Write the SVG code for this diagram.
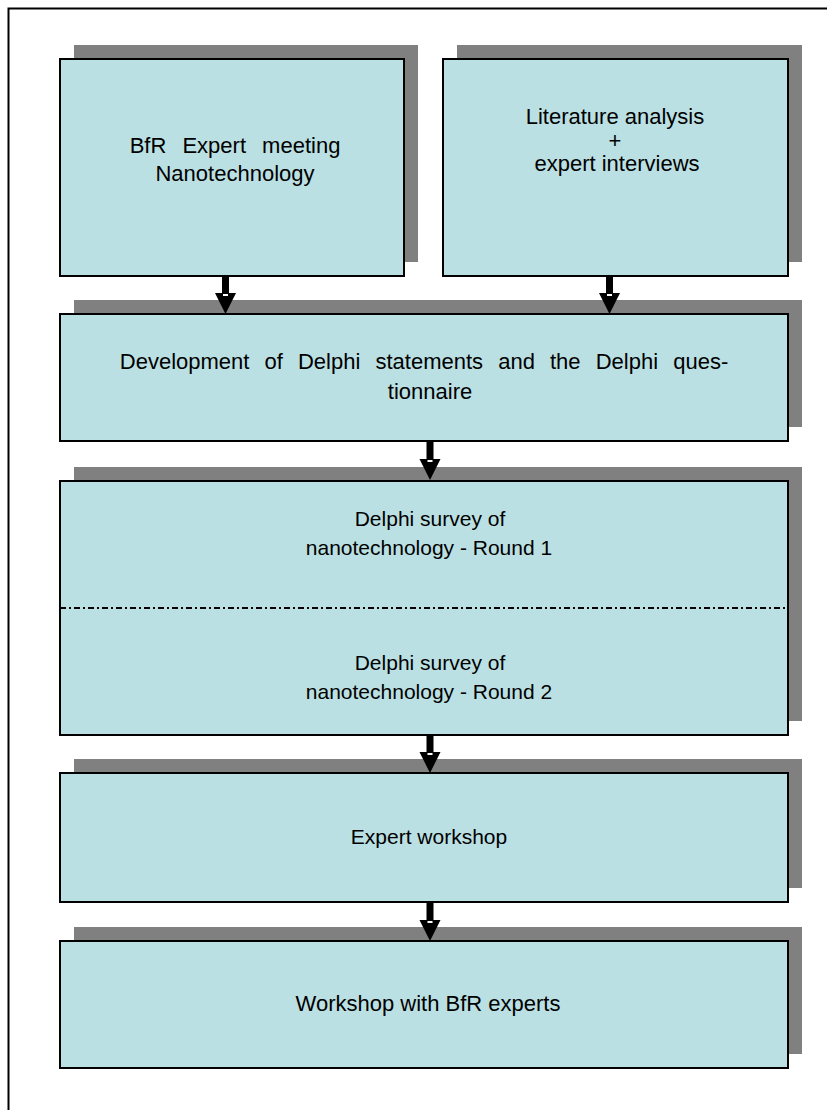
<svg xmlns="http://www.w3.org/2000/svg" width="827" height="1110" viewBox="0 0 827 1110">
<style>
.shadow{fill:#808080;}
.box{fill:#BBE0E3;stroke:#000;stroke-width:2;}
.t{font-family:"Liberation Sans",Arial,sans-serif;font-size:22px;fill:#000;text-anchor:middle;}
.s{font-size:21px;}
.arrow{fill:#000;}
.gap{fill:#fff;}
</style>
<rect x="8.5" y="8.5" width="830" height="1120" fill="#fff" stroke="#000" stroke-width="2"/>
<g id="node-bfr-meeting">
<rect class="shadow" x="74" y="45" width="344" height="217"/>
<rect class="box" x="60" y="59" width="344" height="217"/>
<text class="t" x="235" y="153" word-spacing="10">BfR Expert meeting</text>
<text class="t" x="235" y="181">Nanotechnology</text>
</g>
<g id="node-literature">
<rect class="shadow" x="457" y="45" width="345" height="217"/>
<rect class="box" x="443" y="59" width="345" height="217"/>
<text class="t" x="615" y="124">Literature analysis</text>
<text class="t" x="615" y="148">+</text>
<text class="t" x="617" y="171">expert interviews</text>
</g>
<g id="node-development">
<rect class="shadow" x="74" y="300" width="728" height="127"/>
<rect class="box" x="60" y="314" width="728" height="127"/>
<text class="t" x="424" y="369" word-spacing="9">Development of Delphi statements and the Delphi ques-</text>
<text class="t" x="430" y="399">tionnaire</text>
</g>
<g id="node-survey">
<rect class="shadow" x="74" y="467" width="728" height="254"/>
<rect class="box" x="60" y="481" width="728" height="254"/>
<line x1="60" y1="608" x2="788" y2="608" stroke="#000" stroke-width="2" stroke-dasharray="6,3,2,3"/>
<text class="t s" x="430" y="526">Delphi survey of</text>
<text class="t s" x="429" y="555">nanotechnology - Round 1</text>
<text class="t s" x="430" y="670">Delphi survey of</text>
<text class="t s" x="429" y="699">nanotechnology - Round 2</text>
</g>
<g id="node-expert-workshop">
<rect class="shadow" x="74" y="759" width="728" height="129"/>
<rect class="box" x="60" y="773" width="728" height="129"/>
<text class="t s" x="429" y="844">Expert workshop</text>
</g>
<g id="node-bfr-workshop">
<rect class="shadow" x="74" y="927" width="728" height="127"/>
<rect class="box" x="60" y="941" width="728" height="127"/>
<text class="t" x="428" y="1011">Workshop with BfR experts</text>
</g>
<g id="connectors">
<g transform="translate(225.5,277)"><polygon class="arrow" points="-3.5,0 3.5,0 3.5,16 10.5,16 0,37 -10.5,16 -3.5,16"/><rect class="gap" x="-2.5" y="17" width="5" height="2"/></g>
<g transform="translate(609.5,277)"><polygon class="arrow" points="-3.5,0 3.5,0 3.5,16 10.5,16 0,37 -10.5,16 -3.5,16"/><rect class="gap" x="-2.5" y="17" width="5" height="2"/></g>
<g transform="translate(430,442)"><polygon class="arrow" points="-3.5,0 3.5,0 3.5,17 10.5,17 0,38 -10.5,17 -3.5,17"/><rect class="gap" x="-2.5" y="18" width="5" height="2"/></g>
<g transform="translate(430,736)"><polygon class="arrow" points="-3.5,0 3.5,0 3.5,16 10.5,16 0,37 -10.5,16 -3.5,16"/><rect class="gap" x="-2.5" y="17" width="5" height="2"/></g>
<g transform="translate(430,903)"><polygon class="arrow" points="-3.5,0 3.5,0 3.5,17 10.5,17 0,38 -10.5,17 -3.5,17"/><rect class="gap" x="-2.5" y="18" width="5" height="2"/></g>
</g>
</svg>
